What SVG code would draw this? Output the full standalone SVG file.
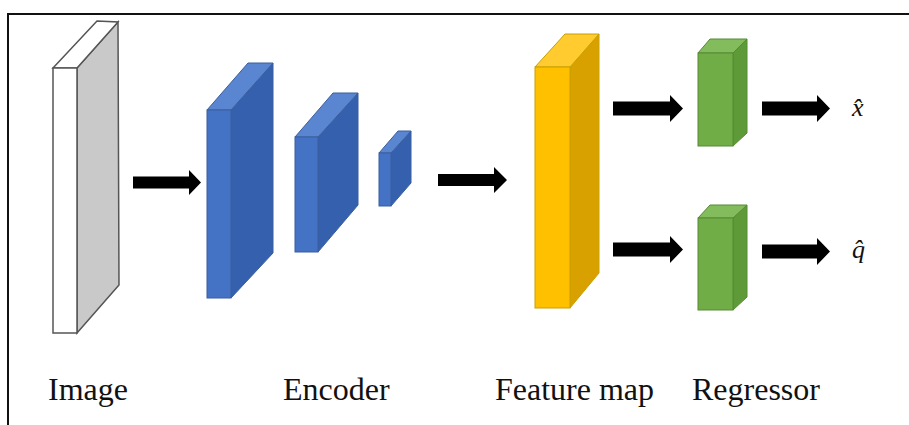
<svg xmlns="http://www.w3.org/2000/svg" width="909" height="425" viewBox="0 0 909 425">
<defs>
<style>
.lbl{font-family:"Liberation Serif","Times New Roman",serif;font-size:32px;fill:#111}
.math{font-family:"Liberation Serif","DejaVu Serif",serif;font-style:italic;font-size:26px;fill:#111}
.arrow{fill:#000}
.img-f{fill:#fff;stroke:#555;stroke-width:1.5}
.img-s{fill:#c9c9c9;stroke:#555;stroke-width:1.5}
.img-t{fill:#fff;stroke:#555;stroke-width:1.5}
.b-f{fill:#4472c4;stroke:#3a5f9f;stroke-width:1}
.b-s{fill:#3560ad;stroke:#3a5f9f;stroke-width:1}
.b-t{fill:#5a85d0;stroke:#3a5f9f;stroke-width:1}
.y-f{fill:#ffc000;stroke:#c9a000;stroke-width:1}
.y-s{fill:#d9a100;stroke:#c9a000;stroke-width:1}
.y-t{fill:#ffcb2e;stroke:#c9a000;stroke-width:1}
.g-f{fill:#70ad47;stroke:#568a35;stroke-width:1}
.g-s{fill:#5e9a38;stroke:#568a35;stroke-width:1}
.g-t{fill:#82bc5c;stroke:#568a35;stroke-width:1}
</style>
</defs>
<rect width="909" height="425" fill="#fff"/>
<path d="M8,425 V14 H909" fill="none" stroke="#111" stroke-width="2"/>

<g id="image-node">
<polygon class="img-s" points="77,68 118,22 119,285 77,333"/>
<polygon class="img-t" points="53,68 77,68 118,22 97,21"/>
<rect class="img-f" x="53" y="68" width="24" height="265"/>
</g>

<g id="encoder-1">
<polygon class="b-s" points="231,110 273,63 273,253 231,298"/>
<polygon class="b-t" points="207,110 231,110 273,63 248,63"/>
<rect class="b-f" x="207" y="110" width="24" height="188"/>
</g>
<g id="encoder-2">
<polygon class="b-s" points="318,137 358,93 358,205 318,252"/>
<polygon class="b-t" points="295,137 318,137 358,93 333,93"/>
<rect class="b-f" x="295" y="137" width="23" height="115"/>
</g>
<g id="encoder-3">
<polygon class="b-s" points="391,153 411,131 411,183 391,206"/>
<polygon class="b-t" points="379,153 391,153 411,131 398,131"/>
<rect class="b-f" x="379" y="153" width="12" height="53"/>
</g>

<g id="feature-map">
<polygon class="y-s" points="570,67 599,34 599,273 570,308"/>
<polygon class="y-t" points="535,67 570,67 599,34 565,34"/>
<rect class="y-f" x="535" y="67" width="35" height="241"/>
</g>

<g id="regressor-1">
<polygon class="g-s" points="733,53 747,39 747,133 733,146"/>
<polygon class="g-t" points="698,53 733,53 747,39 710,39"/>
<rect class="g-f" x="698" y="53" width="35" height="93"/>
</g>
<g id="regressor-2">
<polygon class="g-s" points="733,218 747,205 747,297 733,310"/>
<polygon class="g-t" points="698,218 733,218 747,205 710,205"/>
<rect class="g-f" x="698" y="218" width="35" height="92"/>
</g>

<g id="connectors">
<polygon class="arrow" points="133,176.5 189,176.5 189,170 201,182.5 189,195 189,188.5 133,188.5"/>
<polygon class="arrow" points="438,174 494,174 494,167 507,180 494,193 494,186 438,186"/>
<polygon class="arrow" points="613,101.5 670,101.5 670,95 683,108.5 670,122 670,115.5 613,115.5"/>
<polygon class="arrow" points="613,242.5 670,242.5 670,236 683,249.5 670,263 670,256.5 613,256.5"/>
<polygon class="arrow" points="762,101.5 817,101.5 817,95 830,108.5 817,122 817,115.5 762,115.5"/>
<polygon class="arrow" points="762,244.5 817,244.5 817,238 830,251.5 817,265 817,258.5 762,258.5"/>
</g>

<g id="outputs">
<text class="math" x="852" y="116">x̂</text>
<text class="math" x="852" y="258">q̂</text>
</g>

<g id="labels">
<text class="lbl" x="48" y="400">Image</text>
<text class="lbl" x="283" y="400">Encoder</text>
<text class="lbl" x="495" y="400">Feature map</text>
<text class="lbl" x="692" y="400">Regressor</text>
</g>
</svg>
